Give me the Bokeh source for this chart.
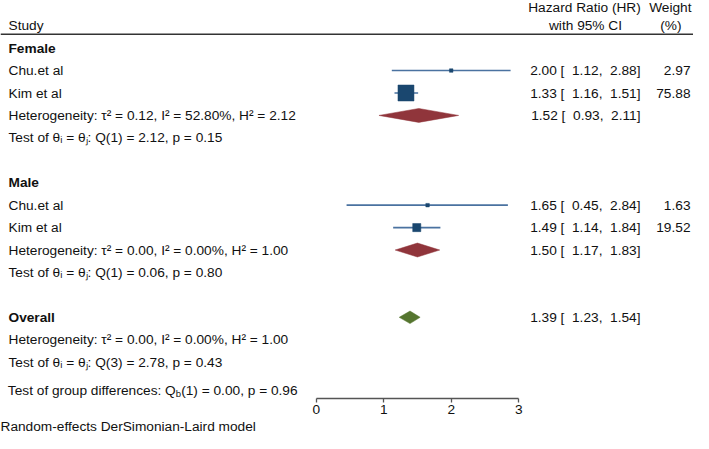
import math
from bokeh.plotting import figure
from bokeh.models import Range1d, LinearAxis, FixedTicker, Span, Title
from bokeh.core.properties import value
from bokeh.embed import file_html
from bokeh.resources import INLINE

# ---------------- data ----------------
studies = ["Chu.et al", "Kim et al"]
group_names = ["Female", "Male"]

female_hr = [2.00, 1.33]
female_lo = [1.12, 1.16]
female_hi = [2.88, 1.51]
female_wt = [2.97, 75.88]

male_hr = [1.65, 1.49]
male_lo = [0.45, 1.14]
male_hi = [2.84, 1.84]
male_wt = [1.63, 19.52]

pooled_hr = [1.52, 1.50]
pooled_lo = [0.93, 1.17]
pooled_hi = [2.11, 1.83]
het_tau2 = [0.12, 0.00]
het_i2 = [52.80, 0.00]
het_h2 = [2.12, 1.00]
test_df = [1, 1]
test_q = [2.12, 0.06]
test_p = [0.15, 0.80]

overall_est = [1.39, 1.23, 1.54]        # HR, lower, upper
overall_het = [0.00, 0.00, 1.00]        # tau2, I2, H2
overall_test = [3, 2.78, 0.43]          # df, Q, p
groupdiff_test = [1, 0.00, 0.96]        # df, Qb, p

x_ticks = [0, 1, 2, 3]

# ---------------- layout helpers ----------------
FONT = value("Liberation Sans")
FS_PX = 13.7
FS = f"{FS_PX}px"
X0, UNIT = 315.7, 67.5          # pixel of HR=0 and pixels per HR unit
Y0, PITCH = 48.0, 22.6          # pixel of first row and row pitch
W, H = 693, 433
FRAME_H = 401
NB = "\u00a0"


def px(x_pix):
    return (x_pix - X0) / UNIT


SQUARE_C = "#1a476f"
LINE_C = "#4a72a0"
MAROON = "#90353b"
GREEN = "#55752f"
TXT = "#111111"

p = figure(width=W, height=H,
           x_range=Range1d(px(0), px(W)),
           y_range=Range1d((FRAME_H - Y0) / PITCH, -Y0 / PITCH),
           x_axis_type=None, y_axis_type=None,
           toolbar_location=None, output_backend="svg",
           min_border=0, outline_line_color=None)
p.background_fill_color = "white"
p.border_fill_color = "white"


def txt(x, y, t, align="left", size=FS, style="normal", **kw):
    p.text(x=x, y=y, text=t, text_font=FONT, text_font_size=size, text_font_style=style,
           text_baseline="middle", text_align=align, text_color=TXT, **kw)


# header
p.add_layout(Span(location=-0.62, dimension="width", line_color="#333333", line_width=1.5))
txt([px(8)], [-1.02], ["Study"])
txt([px(584), px(585)], [-1.81, -1.02], ["Hazard Ratio (HR)", "with 95% CI"], align="center")
txt([px(691), px(681)], [-1.81, -1.02], ["Weight", "(%)"], align="right")


def ci_text(est, lo, hi):
    return f"{est:.2f} [{NB}{NB}{lo:.2f},{NB}{NB}{hi:.2f}]"


max_wt = max(female_wt + male_wt)
groups = [
    (female_hr, female_lo, female_hi, female_wt),
    (male_hr, male_lo, male_hi, male_wt),
]
block_start = [0, 6]

labels_y, labels_t, labels_style = [], [], []
num_y, num_t, wt_y, wt_t = [], [], [], []

for g, (hr, lo, hi, wt) in enumerate(groups):
    r0 = block_start[g]
    labels_y.append(r0); labels_t.append(group_names[g]); labels_style.append("bold")
    rows = [r0 + 1 + i for i in range(len(studies))]
    for i, name in enumerate(studies):
        labels_y.append(rows[i]); labels_t.append(name); labels_style.append("normal")
        num_y.append(rows[i]); num_t.append(ci_text(hr[i], lo[i], hi[i]))
        wt_y.append(rows[i]); wt_t.append(f"{wt[i]:.2f}")
    # CI lines and squares
    p.segment(x0=lo, x1=hi, y0=rows, y1=rows, line_color=LINE_C, line_width=1.6)
    sizes = [max(16 * math.sqrt(w / max_wt), 3.5) for w in wt]
    p.scatter(x=hr, y=rows, size=sizes, marker="square", fill_color=SQUARE_C,
              line_color=SQUARE_C, line_width=0.5)
    # pooled diamond
    rd = r0 + 3
    h = 0.31
    p.patch(x=[pooled_lo[g], pooled_hr[g], pooled_hi[g], pooled_hr[g]],
            y=[rd, rd - h, rd, rd + h], fill_color=MAROON, line_color=MAROON, line_width=0.5)
    num_y.append(rd); num_t.append(ci_text(pooled_hr[g], pooled_lo[g], pooled_hi[g]))
    labels_y.append(rd)
    labels_t.append(f"Heterogeneity: \u03c4\u00b2 = {het_tau2[g]:.2f}, I\u00b2 = {het_i2[g]:.2f}%, "
                    f"H\u00b2 = {het_h2[g]:.2f}")
    labels_style.append("normal")
    labels_y.append(rd + 1)
    labels_t.append(f"Test of \u03b8\u1d62 = \u03b8\u2c7c: Q({test_df[g]}) = {test_q[g]:.2f}, "
                    f"p = {test_p[g]:.2f}")
    labels_style.append("normal")

# overall
ro = 12
h = 0.28
p.patch(x=[overall_est[1], overall_est[0], overall_est[2], overall_est[0]],
        y=[ro, ro - h, ro, ro + h], fill_color=GREEN, line_color=GREEN, line_width=0.5)
num_y.append(ro); num_t.append(ci_text(*overall_est))
labels_y += [ro, ro + 1, ro + 2]
labels_t += ["Overall",
             f"Heterogeneity: \u03c4\u00b2 = {overall_het[0]:.2f}, I\u00b2 = {overall_het[1]:.2f}%, "
             f"H\u00b2 = {overall_het[2]:.2f}",
             f"Test of \u03b8\u1d62 = \u03b8\u2c7c: Q({overall_test[0]}) = {overall_test[1]:.2f}, "
             f"p = {overall_test[2]:.2f}"]
labels_style += ["bold", "normal", "normal"]

txt([px(8)] * len(labels_y), labels_y, labels_t, style=labels_style)
txt([px(640)] * len(num_y), num_y, num_t, align="right")
txt([px(690)] * len(wt_y), wt_y, wt_t, align="right")

# test of group differences with subscript b
rg = 15.27
join = 8 + 12.395 * FS_PX * 0.985
txt([px(join)], [rg], ["Test of group differences: Q"], align="right")
txt([px(join)], [rg], ["b"], size="9.5px", y_offset=3)
txt([px(join + 5.4)], [rg],
    [f"({groupdiff_test[0]}) = {groupdiff_test[1]:.2f}, p = {groupdiff_test[2]:.2f}"])

# x axis
ax = LinearAxis(ticker=FixedTicker(ticks=x_ticks), bounds=(0, 3))
ax.axis_line_color = "#555555"
ax.axis_line_width = 1.3
ax.major_tick_line_color = "#555555"
ax.major_tick_line_width = 1.3
ax.major_tick_out = 4
ax.major_tick_in = 0
ax.minor_tick_out = 0
ax.minor_tick_in = 0
ax.major_label_standoff = 2
ax.major_label_text_font = "Liberation Sans"
ax.major_label_text_font_size = FS
ax.major_label_text_color = TXT
p.add_layout(ax, "below")

p.add_layout(Title(text="Random-effects DerSimonian-Laird model", align="left",
                   text_font="Liberation Sans", text_font_size=FS,
                   text_font_style="normal", text_color=TXT, standoff=0), "below")

open("out.html", "w").write(file_html(p, INLINE))
